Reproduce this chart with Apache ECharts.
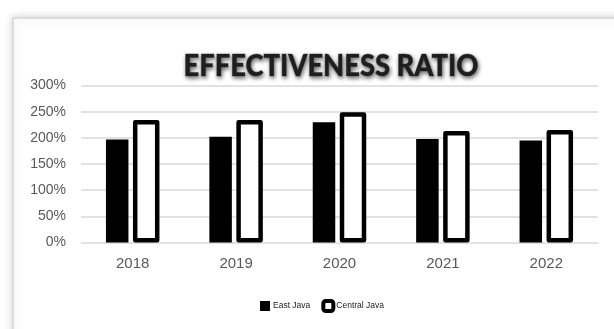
<!DOCTYPE html>
<html>
<head>
<meta charset="utf-8">
<script src="https://cdn.jsdelivr.net/npm/echarts@6/dist/echarts.min.js"></script>
<style>
  html, body { margin: 0; padding: 0; background: #ffffff; }
  #chart { width: 614px; height: 329px; }
</style>
</head>
<body>
<div id="chart"></div>
<script>
// Effectiveness ratio by year, East Java vs Central Java (percent)
const years = ['2018', '2019', '2020', '2021', '2022'];
const eastJava = [197, 202, 230, 198, 195];
const centralJava = [234, 234, 249, 213, 215];
const seriesNames = ['East Java', 'Central Java'];
const chartTitle = 'EFFECTIVENESS RATIO';

// Title is set in a heavy face squeezed horizontally to a fixed width
const titleFont = '900 30px Lato, "Open Sans", sans-serif';
const titleWidth = 295;
const measureCtx = document.createElement('canvas').getContext('2d');
measureCtx.font = titleFont;
const titleScaleX = titleWidth / measureCtx.measureText(chartTitle).width;

const chart = echarts.init(document.getElementById('chart'), null, { renderer: 'canvas' });

chart.setOption({
  animation: false,
  backgroundColor: '#ffffff',
  graphic: [
    {
      type: 'rect',
      z: -10,
      silent: true,
      shape: { x: 13, y: 18, width: 640, height: 340 },
      style: {
        fill: '#ffffff',
        stroke: '#d6d6d6',
        lineWidth: 1.5,
        shadowBlur: 8,
        shadowColor: 'rgba(0,0,0,0.18)'
      }
    },
    {
      type: 'text',
      silent: true,
      x: 331,
      y: 66,
      scaleX: titleScaleX,
      style: {
        text: chartTitle,
        font: titleFont,
        fill: '#1e1e1e',
        stroke: 'rgba(30,30,30,0.35)',
        lineWidth: 1,
        align: 'center',
        verticalAlign: 'middle',
        textShadowColor: 'rgba(0,0,0,0.65)',
        textShadowBlur: 4,
        textShadowOffsetX: 1,
        textShadowOffsetY: 2,
        shadowColor: 'rgba(0,0,0,0.65)',
        shadowBlur: 4,
        shadowOffsetX: 1,
        shadowOffsetY: 2
      }
    }
  ],
  legend: {
    top: 294,
    left: 255,
    itemWidth: 10,
    itemHeight: 10,
    itemGap: 11,
    textStyle: {
      fontFamily: 'Liberation Sans, Arial, sans-serif',
      fontSize: 8.5,
      color: '#222222',
      padding: [0, 0, 0, -2]
    },
    data: [
      { name: seriesNames[0], icon: 'rect', itemStyle: { color: '#000000', borderWidth: 0 } },
      { name: seriesNames[1], icon: 'roundRect', itemStyle: { color: '#ffffff', borderColor: '#000000', borderWidth: 4 } }
    ]
  },
  grid: { left: 81, right: 16, top: 85.5, bottom: 86.5, containLabel: false },
  xAxis: {
    type: 'category',
    data: years,
    axisLine: { show: false },
    axisTick: { show: false },
    axisLabel: {
      margin: 14,
      fontFamily: 'Liberation Sans, Arial, sans-serif',
      fontSize: 15,
      color: '#595959'
    }
  },
  yAxis: {
    type: 'value',
    min: 0,
    max: 300,
    interval: 50,
    axisLine: { show: false },
    axisTick: { show: false },
    axisLabel: {
      margin: 15,
      formatter: '{value}%',
      fontFamily: 'Liberation Sans, Arial, sans-serif',
      fontSize: 14,
      color: '#595959'
    },
    splitLine: { lineStyle: { color: '#d9d9d9', width: 1.5 } }
  },
  series: [
    {
      name: seriesNames[0],
      type: 'bar',
      data: eastJava,
      barWidth: 22.5,
      barGap: '20%',
      itemStyle: { color: '#000000' }
    },
    {
      name: seriesNames[1],
      type: 'bar',
      data: centralJava,
      barWidth: 26.5,
      itemStyle: {
        color: '#ffffff',
        borderColor: '#000000',
        borderWidth: 4.5,
        borderJoin: 'round'
      }
    }
  ]
});
</script>
</body>
</html>
